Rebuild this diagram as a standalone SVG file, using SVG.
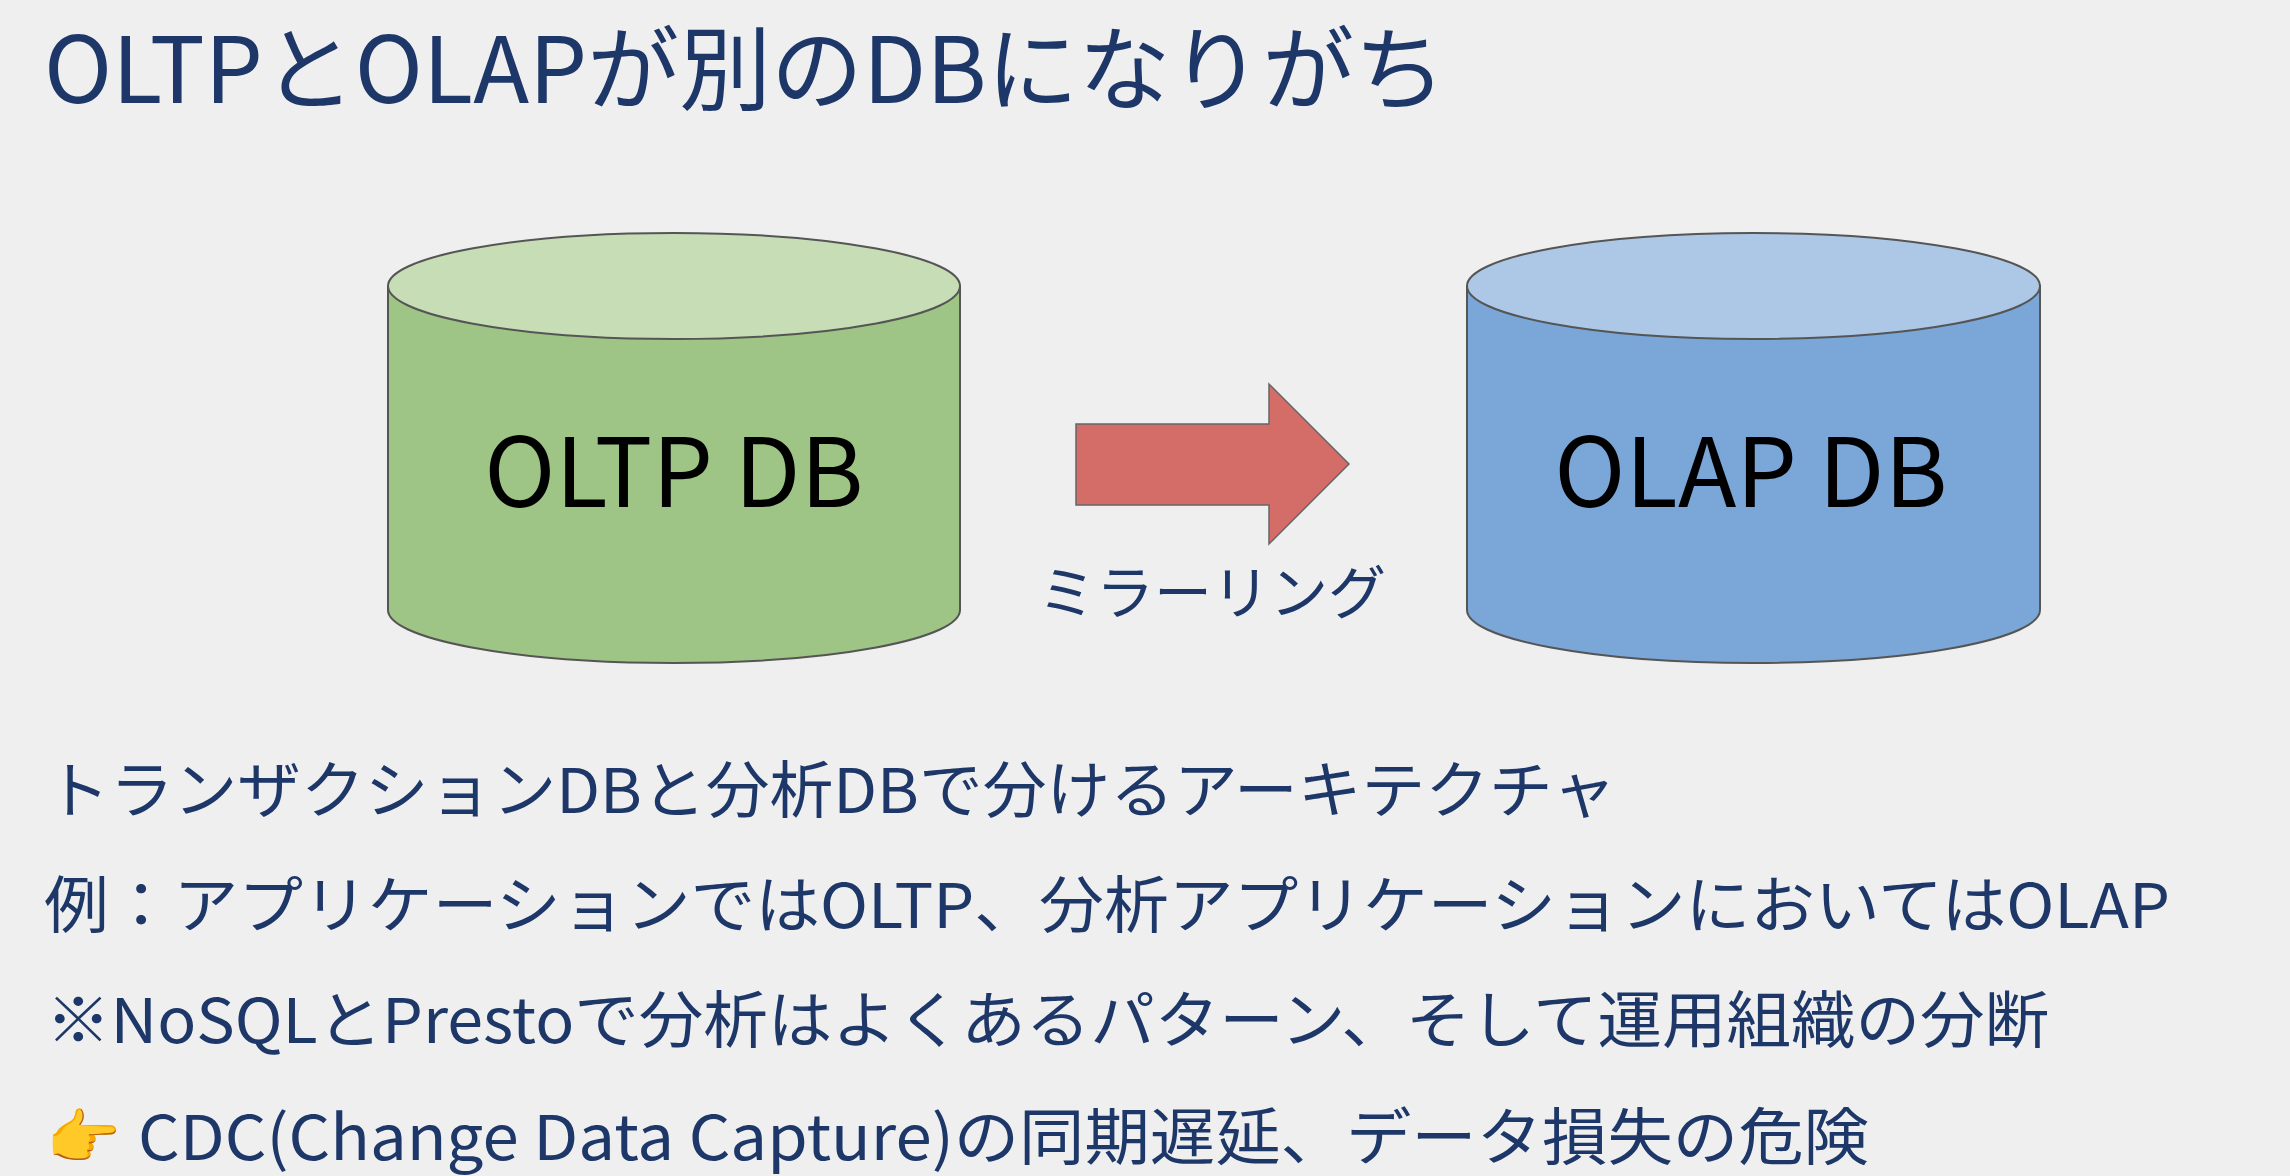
<svg xmlns="http://www.w3.org/2000/svg" width="2290" height="1176" viewBox="0 0 2290 1176">
<defs>
<style>
.bg{fill:#efefef}
.t{font-family:"Noto Sans CJK JP","Noto Sans",sans-serif;fill:#1e3769}
.title{font-size:92px}
.body{font-size:62px}
.lbl{font-family:"Noto Sans CJK JP","Noto Sans",sans-serif;font-size:96px;fill:#000;text-anchor:middle}
.edge{stroke:#555;stroke-width:2}
</style>
</defs>
<rect class="bg" x="0" y="0" width="2290" height="1176"/>
<text class="t title" x="44" y="103" textLength="1402" lengthAdjust="spacingAndGlyphs">OLTPとOLAPが別のDBになりがち</text>
<g id="oltp">
<path class="edge" fill="#9ec585" d="M388,286 L388,610 A286,53 0 0 0 960,610 L960,286 Z"/>
<ellipse class="edge" fill="#c6ddb6" cx="674" cy="286" rx="286" ry="53"/>
<text class="lbl" x="674" y="507">OLTP DB</text>
</g>
<g id="olap">
<path class="edge" fill="#7ba6d8" d="M1467,286 L1467,610 A286.5,53 0 0 0 2040,610 L2040,286 Z"/>
<ellipse class="edge" fill="#adc8e7" cx="1753.5" cy="286" rx="286.5" ry="53"/>
<text class="lbl" x="1751" y="507">OLAP DB</text>
</g>
<g id="connectors">
<path fill="#d46c68" stroke="#666" stroke-width="1.5" d="M1076,424 L1269,424 L1269,384 L1349,464 L1269,544 L1269,505 L1076,505 Z"/>
<text class="t" x="1212" y="614" font-size="58" text-anchor="middle">ミラーリング</text>
</g>
<text class="t body" x="46" y="813" textLength="1570" lengthAdjust="spacingAndGlyphs">トランザクションDBと分析DBで分けるアーキテクチャ</text>
<text class="t body" x="44" y="928" textLength="2126" lengthAdjust="spacingAndGlyphs">例：アプリケーションではOLTP、分析アプリケーションにおいてはOLAP</text>
<text class="t body" x="46" y="1043" textLength="2003" lengthAdjust="spacingAndGlyphs">※NoSQLとPrestoで分析はよくあるパターン、そして運用組織の分断</text>
<text x="46" y="1158" font-family="'Noto Color Emoji','Noto Sans',sans-serif" font-size="60">👉</text>
<text class="t body" x="138" y="1160" textLength="1731" lengthAdjust="spacingAndGlyphs">CDC(Change Data Capture)の同期遅延、データ損失の危険</text>
</svg>
